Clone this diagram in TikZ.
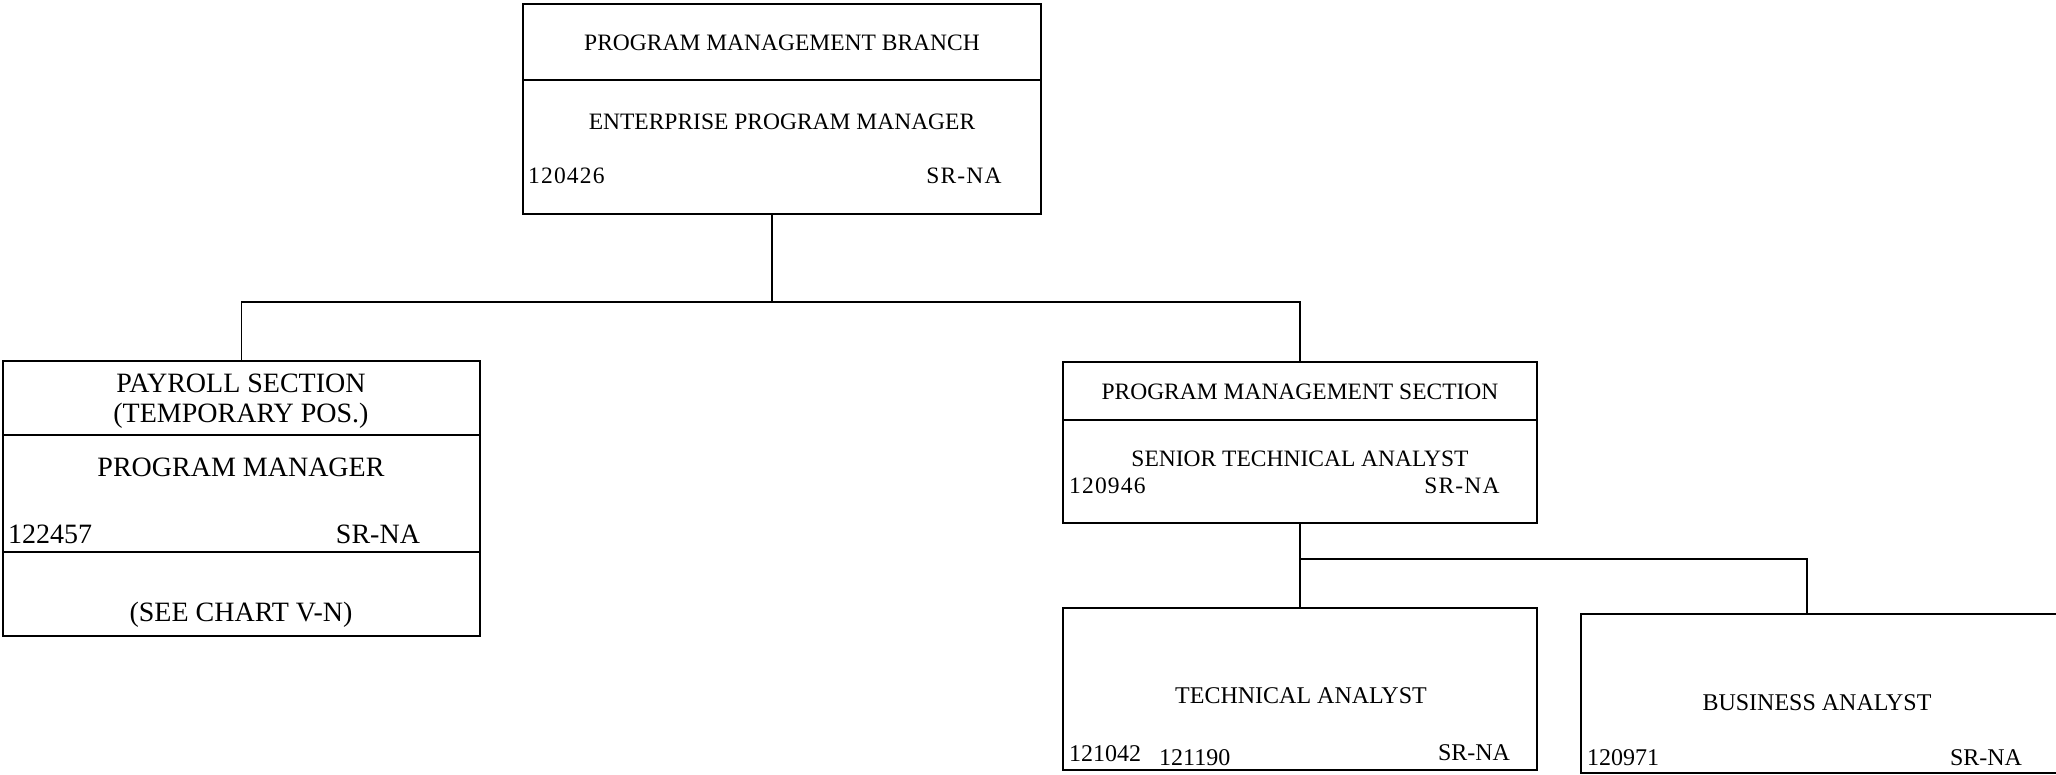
\documentclass[tikz,border=0pt]{standalone}
\usepackage{fontspec}
\setmainfont{Liberation Serif}
\usetikzlibrary{calc}
\begin{document}
\begin{tikzpicture}[x=1pt,y=-1pt,
  box/.style={draw, line width=1.3pt, inner sep=0pt, outer sep=0pt, anchor=north west},
  conn/.style={draw, line width=1.3pt},
  divl/.style={draw, line width=1.3pt},
  ts/.style={inner sep=0pt, font=\fontsize{23.5}{26}\selectfont},
  tsn/.style={inner sep=0pt, font=\fontsize{23.5}{26}\selectfont\addfontfeature{LetterSpace=5}},
  tl/.style={inner sep=0pt, font=\fontsize{28}{32}\selectfont},
  tc/.style={inner sep=0pt, font=\fontsize{24}{28}\selectfont}]
\useasboundingbox (0,0) rectangle (2056,775);
% boxes
\node[box, minimum width=518pt, minimum height=210pt] (top) at (523,4) {};
\node[box, minimum width=477pt, minimum height=275pt] (pay) at (3,361) {};
\node[box, minimum width=474pt, minimum height=161pt] (pms) at (1063,362) {};
\node[box, minimum width=474pt, minimum height=162pt] (ta) at (1063,608) {};
\node[box, minimum width=480pt, minimum height=159pt] (ba) at (1581,614) {};
% dividers
\draw[divl] (top.west |- 0,80) -- (top.east |- 0,80);
\draw[divl] (pay.west |- 0,435) -- (pay.east |- 0,435);
\draw[divl] (pay.west |- 0,552) -- (pay.east |- 0,552);
\draw[divl] (pms.west |- 0,420) -- (pms.east |- 0,420);
% connectors
\coordinate (j1) at (772,302);
\coordinate (j2) at ($(pms.south)+(0,36)$);
\coordinate (bat) at (1807,614);
\draw[conn] (top.south -| j1) -- (j1);
\draw[conn] (pay.north) |- (j1) -| (pms.north);
\draw[conn] (pms.south) -- (j2) -| (bat);
\draw[conn] (j2) -- (ta.north);
% top texts
\node[ts] (t1) at (782,43) {PROGRAM MANAGEMENT BRANCH};
\node[ts] (t2) at (782,122) {ENTERPRISE PROGRAM MANAGER};
\node[tsn, anchor=west] (t3) at (528,176) {120426};
\node[tsn] (t4) at (964,176) {SR-NA};
% payroll texts
\node[tl] (p1) at (241,383) {PAYROLL SECTION};
\node[tl] (p2) at (241,416) {(TEMPORARY POS.)};
\node[tl] (p3) at (241,467) {PROGRAM MANAGER};
\node[tl, anchor=west] (p4) at (8,534) {122457};
\node[tl] (p5) at (378,534) {SR-NA};
\node[tl] (p6) at (241,615) {(SEE CHART V-N)};
% pms texts
\node[ts] (s1) at (1300,392) {PROGRAM MANAGEMENT SECTION};
\node[ts] (s2) at (1300,459) {SENIOR TECHNICAL ANALYST};
\node[tsn, anchor=west] (s3) at (1069,486) {120946};
\node[tsn] (s4) at (1462,486) {SR-NA};
% ta texts
\node[tc] (a1) at (1301,696) {TECHNICAL ANALYST};
\node[tc, anchor=west] (a2) at (1069,754) {121042};
\node[tc, anchor=west] (a3) at (1159,758) {121190};
\node[tc] (a4) at (1474,753) {SR-NA};
% ba texts
\node[tc] (b1) at (1817,703) {BUSINESS ANALYST};
\node[tc, anchor=west] (b2) at (1587,758) {120971};
\node[tc] (b3) at (1986,758) {SR-NA};
\end{tikzpicture}
\end{document}
